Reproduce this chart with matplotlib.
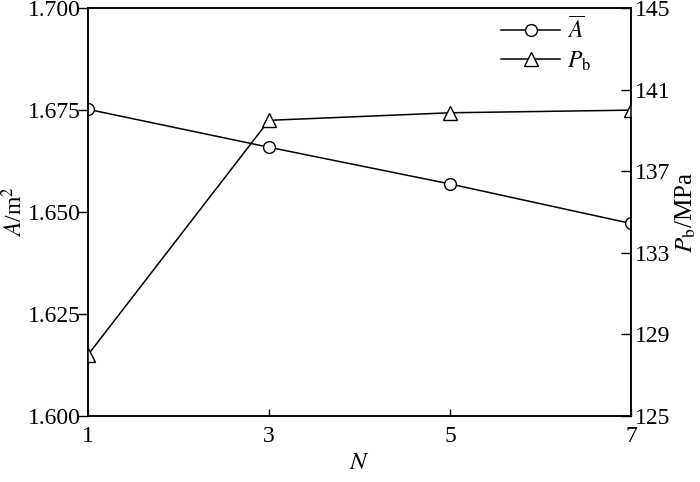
import matplotlib.pyplot as plt

plt.rcParams['font.family'] = ['Liberation Serif', 'DejaVu Serif']
plt.rcParams['mathtext.fontset'] = 'stix'

N = [1, 3, 5, 7]
A_mean = [1.6752, 1.6659, 1.6569, 1.6472]
P_b = [128.0, 139.5, 139.87, 140.0]

fig = plt.figure(figsize=(7, 4.82), dpi=100)
ax = fig.add_axes([0.1257, 0.137, 0.9014 - 0.1257, 0.983 - 0.137])
ax2 = ax.twinx()

l1, = ax.plot(N, A_mean, color='black', lw=1.1, marker='o', ms=8.5,
              mfc='white', mec='black', mew=1.0, label=r'$\overline{A}$')
l2, = ax2.plot(N, P_b, color='black', lw=1.1, marker='^', ms=9.5,
               mfc='white', mec='black', mew=1.0, label=r'$P_{\rm b}$')

ax.set_xlim(1, 7)
ax.set_ylim(1.600, 1.700)
ax2.set_ylim(125, 145)
ax.set_xticks([1, 3, 5, 7])
ax.set_yticks([1.600, 1.625, 1.650, 1.675, 1.700])
ax.set_yticklabels(['1.600', '1.625', '1.650', '1.675', '1.700'])
ax2.set_yticks([125, 129, 133, 137, 141, 145])

ax.tick_params(axis='x', direction='in', length=5, width=1, labelsize=17, pad=7)
ax.tick_params(axis='y', direction='out', length=7, width=1, labelsize=17, pad=-2)
ax2.tick_params(axis='y', direction='in', length=7, width=1, labelsize=17, pad=3)

for a in (ax, ax2):
    for s in a.spines.values():
        s.set_linewidth(1.1)

ax.set_xlabel(r'$N$', fontsize=18, labelpad=4)
ax.set_ylabel(r'$\overline{A}$/m$^2$', fontsize=17)
ax.yaxis.set_label_coords(-0.112, 0.5)
ax2.set_ylabel(r'$P_{\rm b}$/MPa', fontsize=18, labelpad=2, rotation=90)

ax.legend(handles=[l1, l2], loc='upper right', frameon=False, fontsize=17,
          handlelength=2.5, handletextpad=0.3, labelspacing=0.25,
          bbox_to_anchor=(0.966, 1.03))

fig.savefig('out.png', dpi=100)
